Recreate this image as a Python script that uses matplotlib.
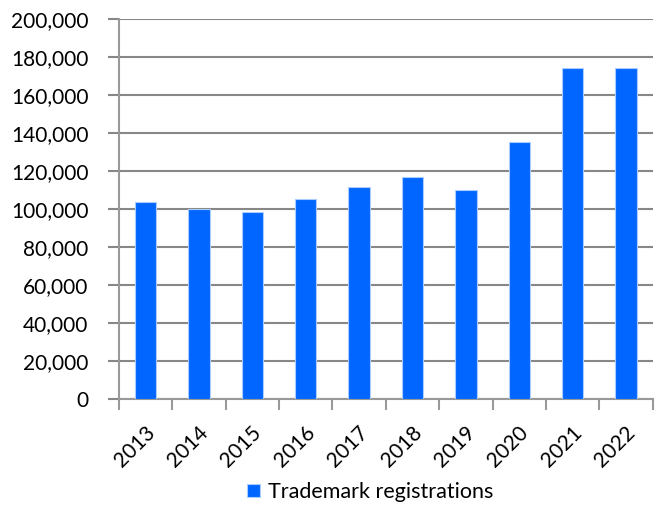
import numpy as np
import matplotlib.pyplot as plt
from matplotlib.patches import Patch
from matplotlib.ticker import FuncFormatter
import matplotlib.transforms as mtransforms

years = ['2013', '2014', '2015', '2016', '2017', '2018', '2019', '2020', '2021', '2022']
registrations = [103500, 100100, 98300, 105300, 111400, 116700, 110000, 135400, 174000, 174200]

plt.rcParams['font.family'] = ['Lato', 'DejaVu Sans']

bar_color = '#0066ff'
grid_color = '#878787'

fig = plt.figure(figsize=(6.6, 5.05), dpi=100)
ax = fig.add_axes([119/660, 1 - 399/505, (652.7 - 119)/660, (399 - 19)/505])

x = np.arange(len(years))
ax.bar(x, registrations, width=0.4, color=bar_color, edgecolor='#a9cdff',
       linewidth=0.8, zorder=3)

ax.set_xlim(-0.5, len(years) - 0.5)
ax.set_ylim(0, 200000)
ax.set_yticks(np.arange(0, 200001, 20000))
ax.yaxis.set_major_formatter(FuncFormatter(lambda v, p: f'{v:,.0f}'))
ax.grid(axis='y', color=grid_color, linewidth=1.5, zorder=0)

# labels at category centres, tick marks at category boundaries
ax.set_xticks(x)
ax.set_xticklabels(years, rotation=45, ha='right', va='center',
                   rotation_mode='anchor')
ax.set_xticks(np.arange(-0.5, len(years)), minor=True)
ax.tick_params(axis='x', which='major', length=0, pad=22, labelsize=15)
ax.tick_params(axis='x', which='minor', length=8, width=1.5, color='#999999')
ax.tick_params(axis='y', length=8, width=1.5, color=grid_color, pad=14,
               labelsize=15)
shift = mtransforms.ScaledTranslation(6/100, 0, fig.dpi_scale_trans)
for lbl in ax.get_xticklabels():
    lbl.set_transform(lbl.get_transform() + shift)

for side in ['top', 'right']:
    ax.spines[side].set_visible(False)
for side in ['left', 'bottom']:
    ax.spines[side].set_color('#999999')
    ax.spines[side].set_linewidth(1.5)

handle = Patch(facecolor=bar_color, edgecolor='#a9cdff', linewidth=0.8)
fig.legend([handle], ['Trademark registrations'], loc='center',
           bbox_to_anchor=(370/660, 1 - 492/505), frameon=False,
           fontsize=15.5, handlelength=0.6, handleheight=0.6,
           handletextpad=0.35)

fig.savefig('out.png', dpi=100)
